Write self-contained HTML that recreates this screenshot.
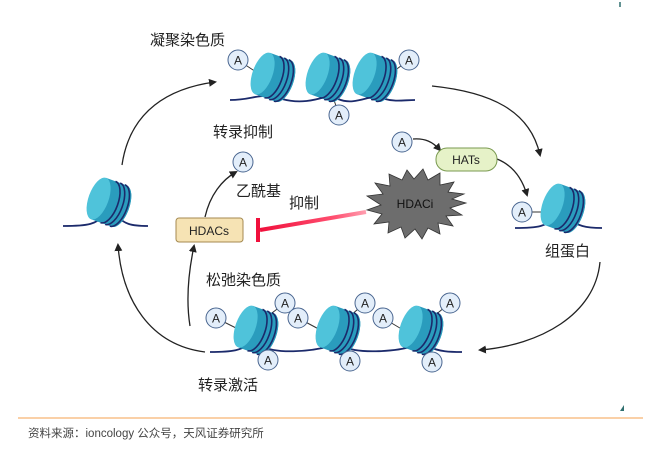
<!DOCTYPE html>
<html><head><meta charset="utf-8"><style>
html,body{margin:0;padding:0;background:#fff;width:668px;height:457px;overflow:hidden}
text{font-family:"Liberation Sans","Noto Sans CJK SC",sans-serif}
</style></head><body>
<svg width="668" height="457" viewBox="0 0 668 457" xmlns="http://www.w3.org/2000/svg">
<defs>
<marker id="ah" markerWidth="8" markerHeight="8" refX="6" refY="4" orient="auto" markerUnits="userSpaceOnUse"><path d="M0,0 L8,4 L0,8 Z" fill="#222"/></marker>
<g id="nuc">
  <g transform="rotate(20)">
    <path d="M-10,-22 L12,-22 A10,22 0 0 1 12,22 L-10,22 Z" fill="#2a9cbd"/>
    <ellipse cx="12" cy="0" rx="10" ry="22" fill="#2a9cbd"/>
    <path d="M0,-22 A10,22 0 0 1 0,22" fill="none" stroke="#1b2a6b" stroke-width="1.6"/>
    <path d="M5,-22 A10,22 0 0 1 5,22" fill="none" stroke="#1b2a6b" stroke-width="1.6"/>
    <path d="M10,-22 A10,22 0 0 1 10,22" fill="none" stroke="#1b2a6b" stroke-width="1.6"/>
    <ellipse cx="-10" cy="0" rx="10" ry="22" fill="#4fc3da"/>
  </g>
</g>
<g id="ac"><circle r="10" fill="#e3eefa" stroke="#4a6690" stroke-width="1"/><text y="4.5" text-anchor="middle" font-size="12" fill="#222">A</text></g>
</defs>

<!-- top row -->
<path d="M230,100 C250,100 255,95 270,96 M282,99 C300,104 315,100 325,97 M338,99 C350,104 360,100 372,97 M385,99 C395,102 405,100 415,100" fill="none" stroke="#1b2a6b" stroke-width="1.8"/>
<line x1="238" y1="60" x2="262" y2="76" stroke="#333"/><line x1="409" y1="60" x2="390" y2="74" stroke="#333"/><line x1="339" y1="115" x2="334" y2="100" stroke="#333"/>
<use href="#nuc" x="272" y="77"/><use href="#nuc" x="327" y="77"/><use href="#nuc" x="374" y="77"/>
<use href="#ac" x="238" y="60"/><use href="#ac" x="409" y="60"/><use href="#ac" x="339" y="115"/>

<!-- left nucleosome -->
<path d="M63,226 C90,226 95,224 105,215 M115,215 C125,224 130,226 148,226" fill="none" stroke="#1b2a6b" stroke-width="1.8"/>
<use href="#nuc" x="108" y="202"/>

<!-- right nucleosome -->
<path d="M515,228 C540,228 545,226 555,218 M568,218 C578,226 585,228 602,228" fill="none" stroke="#1b2a6b" stroke-width="1.8"/>
<line x1="530" y1="212" x2="548" y2="212" stroke="#333"/>
<use href="#nuc" x="562" y="208"/>
<use href="#ac" x="522" y="212"/>

<!-- bottom row -->
<path d="M210,352 C235,352 240,350 250,344 M262,346 C275,354 310,352 330,346 M344,346 C355,354 395,352 413,346 M427,346 C440,352 450,352 462,352" fill="none" stroke="#1b2a6b" stroke-width="1.8"/>
<g stroke="#333">
<line x1="216" y1="318" x2="246" y2="333"/><line x1="285" y1="303" x2="268" y2="316"/><line x1="298" y1="318" x2="328" y2="334"/>
<line x1="365" y1="303" x2="350" y2="316"/><line x1="383" y1="318" x2="410" y2="334"/><line x1="450" y1="303" x2="434" y2="316"/>
<line x1="268" y1="360" x2="262" y2="348"/><line x1="350" y1="361" x2="344" y2="348"/><line x1="432" y1="362" x2="426" y2="348"/>
</g>
<use href="#nuc" x="255" y="330"/><use href="#nuc" x="337" y="330"/><use href="#nuc" x="420" y="330"/>
<use href="#ac" x="216" y="318"/><use href="#ac" x="285" y="303"/><use href="#ac" x="298" y="318"/>
<use href="#ac" x="365" y="303"/><use href="#ac" x="383" y="318"/><use href="#ac" x="450" y="303"/>
<use href="#ac" x="268" y="360"/><use href="#ac" x="350" y="361"/><use href="#ac" x="432" y="362"/>

<!-- arrows -->
<g fill="none" stroke="#222" stroke-width="1.3" marker-end="url(#ah)">
<path d="M122,165 C130,110 170,88 215,82"/>
<path d="M432,86 C490,92 530,110 540,155"/>
<path d="M600,262 C595,315 540,345 480,350"/>
<path d="M205,352 C150,345 122,300 118,245"/>
<path d="M190,326 C185,295 190,265 194,246"/>
<path d="M205,217 C210,195 222,180 236,172"/>
<path d="M413,139 C425,138 433,142 440,150"/>
<path d="M497,159 C512,165 522,178 527,195"/>
</g>

<!-- HATs -->
<rect x="436" y="148" width="61" height="23" rx="11" fill="#e6f2c8" stroke="#7a9a50" stroke-width="1"/>
<text x="466" y="164" text-anchor="middle" font-size="12" fill="#222">HATs</text>
<line x1="406" y1="140" x2="413" y2="140" stroke="none"/>
<use href="#ac" x="402" y="142"/>

<!-- HDACi star -->
<polygon fill="#6d6d6d" stroke="#333" stroke-width="0.8" points="
466,203 450,208 462,215 446,216 453,226 438,223 440,234 428,228 422,239 415,229 405,238 401,227 388,233 389,222 374,224 382,214 367,210 381,205 367,196 383,194 375,183 390,186 389,174 402,180 407,170 414,179 423,169 428,180 440,173 440,185 454,182 448,192 464,194 452,199"/>
<text x="415" y="208" text-anchor="middle" font-size="12" fill="#111">HDACi</text>

<!-- red inhibit -->
<defs><linearGradient id="rg" x1="1" y1="0" x2="0" y2="0"><stop offset="0" stop-color="#ff9fb0"/><stop offset="0.3" stop-color="#ff4f70"/><stop offset="1" stop-color="#f0103c"/></linearGradient></defs>
<line x1="366" y1="212" x2="260" y2="230" stroke="url(#rg)" stroke-width="4"/>
<line x1="258" y1="218" x2="258" y2="242" stroke="#f0103c" stroke-width="4"/>

<!-- HDACs -->
<rect x="176" y="218" width="67" height="24" rx="3" fill="#f6e3b4" stroke="#a58a50" stroke-width="1"/>
<text x="209" y="235" text-anchor="middle" font-size="12" fill="#222">HDACs</text>
<use href="#ac" x="243" y="162"/>

<!-- labels -->
<g font-size="15" fill="#222">
<text x="150" y="45">凝聚染色质</text>
<text x="213" y="137">转录抑制</text>
<text x="236" y="196">乙酰基</text>
<text x="289" y="208">抑制</text>
<text x="545" y="256">组蛋白</text>
<text x="206" y="285">松弛染色质</text>
<text x="198" y="390">转录激活</text>
</g>

<path d="M620,411 L624,405 L624,411 Z" fill="#2f6f6f"/>
<line x1="620" y1="2" x2="620" y2="7" stroke="#2f6f6f" stroke-width="1.5"/>
<line x1="18" y1="418" x2="643" y2="418" stroke="#f8c08a" stroke-width="1.5"/>
<text x="28" y="437" font-size="11.5" fill="#444">资料来源：ioncology 公众号，天风证券研究所</text>
</svg>
</body></html>
